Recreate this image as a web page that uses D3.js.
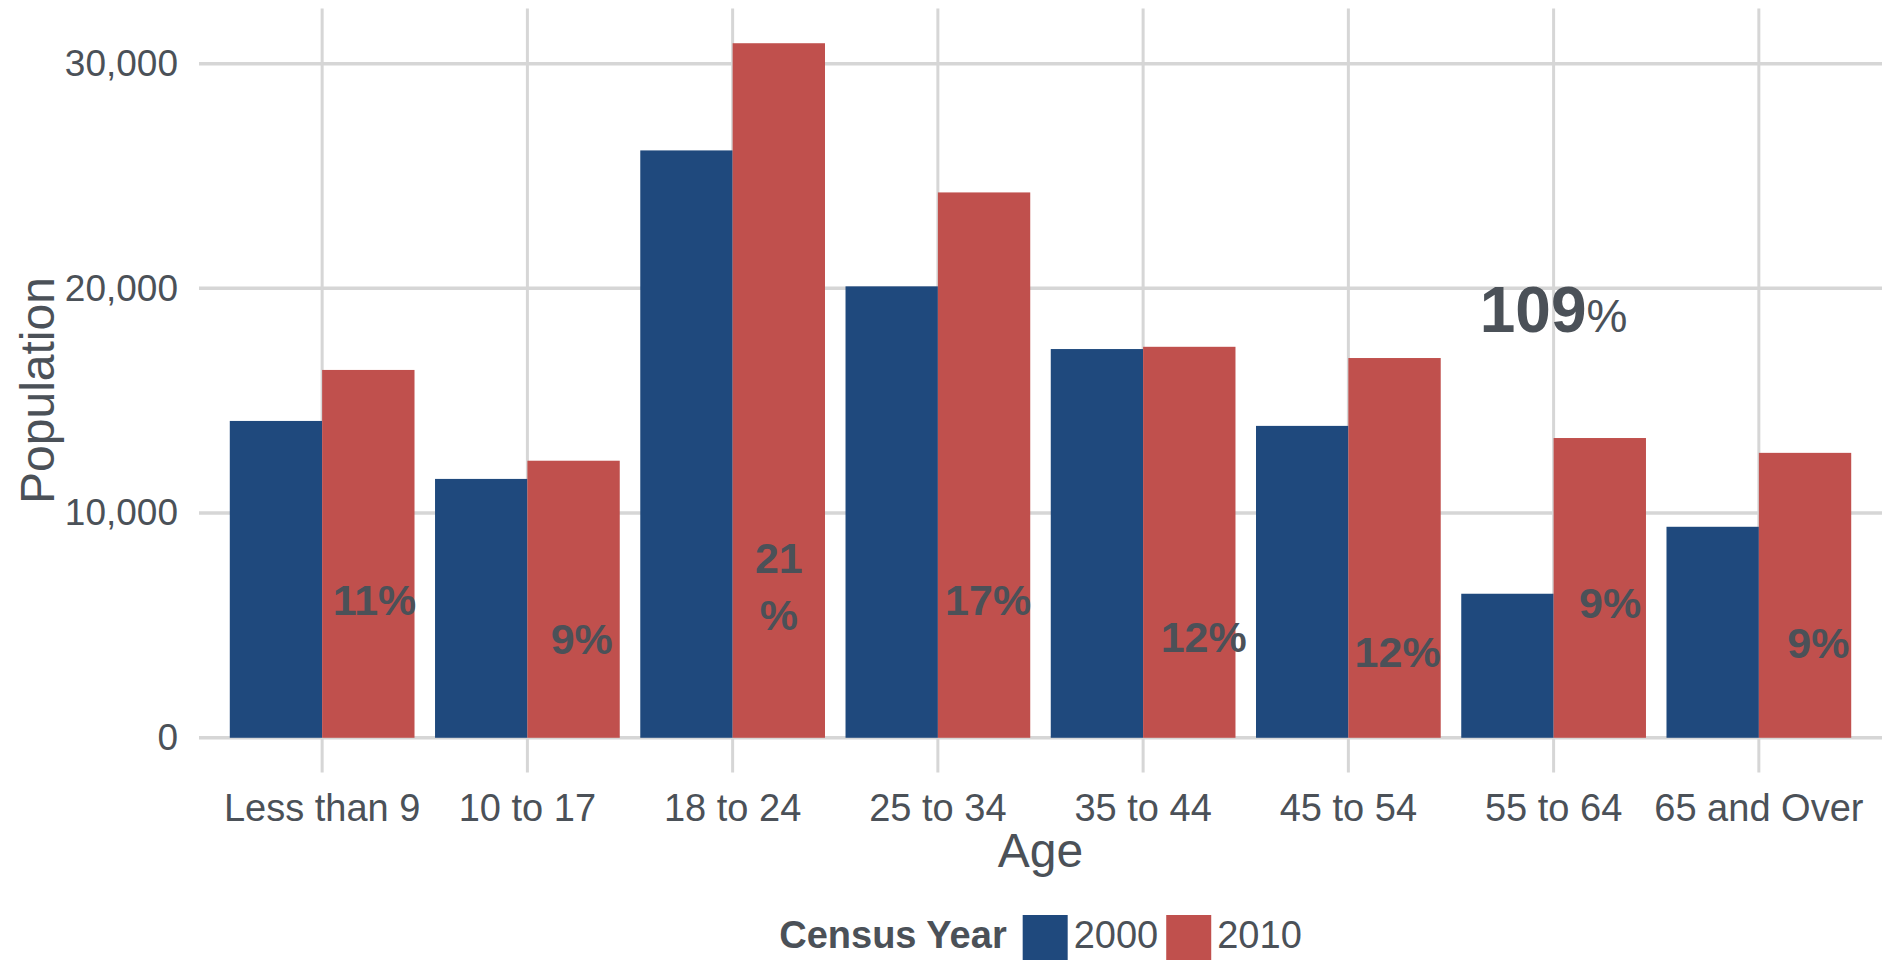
<!DOCTYPE html>
<meta charset="utf-8">
<style>
  body { margin: 0; background: #fff; }
  svg { display: block; font-family: "Liberation Sans", Arial, sans-serif; }
  .grid line { stroke: #d6d6d6; stroke-width: 3; }
  .axis text { fill: #4b5158; }
  .axis path { display: none; }
</style>
<svg width="1886" height="961"></svg>
<script src="https://cdn.jsdelivr.net/npm/d3@7"></script>
<script>
// age groups and census counts
var ages = ["Less than 9", "10 to 17", "18 to 24", "25 to 34", "35 to 44", "45 to 54", "55 to 64", "65 and Over"];
var years = ["2000", "2010"];
var pop2000 = [14100, 11520, 26140, 20090, 17300, 13880, 6410, 9390];
var pop2010 = [16370, 12330, 30910, 24270, 17400, 16900, 13340, 12680];

// share of 2010 population, written on the 2010 bars
var shareLabels = ["11%", "9%", "21\n%", "17%", "12%", "12%", "9%", "9%"];
var shareLabelY = [5450, 3750, 7340, 5450, 3820, 3130, 5310, 3570]; // baseline, in population units
var shareJitter = [0.03, 0.04, 0, 0.02, 0.07, 0.015, 0.05, 0.065];  // sideways nudge, in category units

// growth note over 55 to 64
var growthAge = "55 to 64", growthNum = "109", growthY = 18070;

var colors = {"2000": "#1f497d", "2010": "#c0504d"};
var textColor = "#4b5158";

var svg = d3.select("svg"),
    panel = {left: 199, right: 1882, top: 8.5, bottom: 772.5};

var maxPop = d3.max(pop2000.concat(pop2010));
var y = d3.scaleLinear()
    .domain([-0.05 * maxPop, 1.05 * maxPop])
    .range([panel.bottom, panel.top]);

var x = d3.scaleBand()
    .domain(ages)
    .range([panel.left, panel.right])
    .paddingInner(0)
    .paddingOuter(0.1);

var xYear = d3.scaleBand()
    .domain(years)
    .range([0.05 * x.bandwidth(), 0.95 * x.bandwidth()]);

var rows = ages.map(function(a, i) {
  return {age: a, "2000": pop2000[i], "2010": pop2010[i]};
});

// gridlines
var grid = svg.append("g").attr("class", "grid");
grid.selectAll(".h").data(y.ticks(3).filter(function(t) { return t >= 0; }))
  .enter().append("line")
    .attr("x1", panel.left).attr("x2", panel.right)
    .attr("y1", function(d) { return y(d); })
    .attr("y2", function(d) { return y(d); })
    .style("stroke-width", 3.5);
grid.selectAll(".v").data(ages)
  .enter().append("line")
    .attr("x1", function(d) { return x(d) + x.bandwidth() / 2; })
    .attr("x2", function(d) { return x(d) + x.bandwidth() / 2; })
    .attr("y1", panel.top).attr("y2", panel.bottom);

// bars
var group = svg.selectAll(".age")
  .data(rows)
  .enter().append("g")
    .attr("class", "age")
    .attr("transform", function(d) { return "translate(" + x(d.age) + ",0)"; });

group.selectAll("rect")
  .data(function(d) { return years.map(function(k) { return {key: k, value: d[k]}; }); })
  .enter().append("rect")
    .attr("x", function(d) { return xYear(d.key); })
    .attr("width", xYear.bandwidth())
    .attr("y", function(d) { return y(d.value); })
    .attr("height", function(d) { return y(0) - y(d.value); })
    .attr("fill", function(d) { return colors[d.key]; });

// share labels
svg.selectAll(".share")
  .data(ages)
  .enter().append("text")
    .attr("class", "share")
    .attr("text-anchor", "middle")
    .attr("fill", textColor)
    .style("font-weight", "bold")
    .style("font-size", "43px")
    .each(function(a, i) {
      var cx = x(a) + xYear("2010") + xYear.bandwidth() / 2 + shareJitter[i] * x.step();
      var lines = shareLabels[i].split("\n");
      var t = d3.select(this);
      lines.forEach(function(l, j) {
        t.append("tspan")
          .attr("x", cx)
          .attr("y", y(shareLabelY[i]) + j * 57)
          .text(l);
      });
    });

// growth note
var note = svg.append("text")
    .attr("x", x(growthAge) + x.bandwidth() / 2)
    .attr("y", y(growthY))
    .attr("text-anchor", "middle")
    .attr("fill", textColor);
note.append("tspan").style("font-weight", "bold").style("font-size", "64px").text(growthNum);
note.append("tspan").style("font-size", "46px").text("%");

// axes
svg.append("g")
    .attr("class", "axis")
    .attr("transform", "translate(" + panel.left + ",0)")
    .call(d3.axisLeft(y).tickValues([0, 10000, 20000, 30000]).tickSize(0).tickPadding(21).tickFormat(d3.format(",")))
    .selectAll("text").style("font-size", "37px").style("font-family", "Liberation Sans, Arial, sans-serif");

svg.append("g")
    .attr("class", "axis")
    .attr("transform", "translate(0," + panel.bottom + ")")
    .call(d3.axisBottom(x).tickSize(0).tickPadding(22))
    .selectAll("text").style("font-size", "38px").style("font-family", "Liberation Sans, Arial, sans-serif");

// axis titles
svg.append("text")
    .attr("x", (panel.left + panel.right) / 2)
    .attr("y", 866.5)
    .attr("text-anchor", "middle")
    .attr("fill", textColor)
    .style("font-size", "48px")
    .text("Age");

svg.append("text")
    .attr("transform", "translate(53.5," + (panel.top + panel.bottom) / 2 + ") rotate(-90)")
    .attr("text-anchor", "middle")
    .attr("fill", textColor)
    .style("font-size", "48px")
    .text("Population");

// legend
var legend = svg.append("g");
var lx = 0;
var lt = legend.append("text")
    .attr("x", lx).attr("y", 948)
    .attr("fill", textColor)
    .style("font-size", "38px").style("font-weight", "bold")
    .text("Census Year");
lx += lt.node().getComputedTextLength() + 16;
years.forEach(function(k) {
  legend.append("rect")
    .attr("x", lx).attr("y", 915)
    .attr("width", 45).attr("height", 45)
    .attr("fill", colors[k]);
  lx += 45 + 6;
  var t = legend.append("text")
    .attr("x", lx).attr("y", 948)
    .attr("fill", textColor)
    .style("font-size", "38px")
    .text(k);
  lx += t.node().getComputedTextLength() + 8;
});
lx -= 8;
legend.attr("transform", "translate(" + ((panel.left + panel.right) / 2 - lx / 2) + ",0)");
</script>
